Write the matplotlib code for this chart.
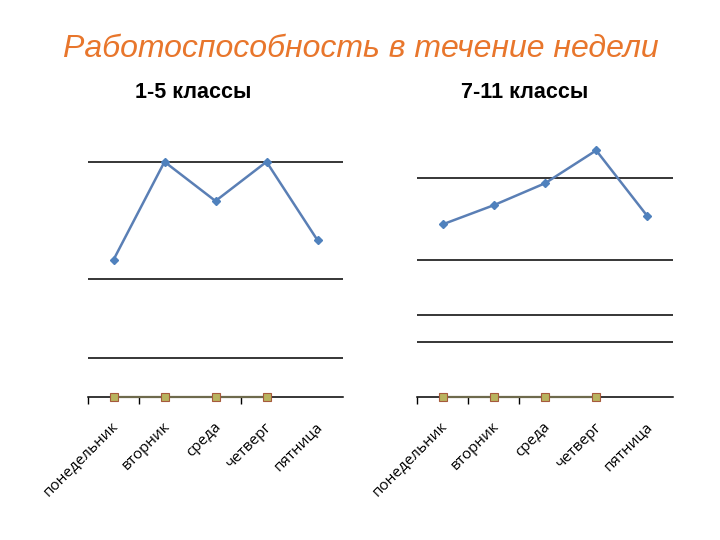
import matplotlib
matplotlib.use("Agg")
import matplotlib.pyplot as plt

days = ["понедельник", "вторник", "среда", "четверг", "пятница"]
title = "Работоспособность в течение недели"

# 1-5 классы
left_title = "1-5 классы"
left_main = [3.5, 6, 5, 6, 4]
left_second = [0, 0, 0, 0]
left_grid = [1, 3, 6]
left_ymax = 6.95

# 7-11 классы
right_title = "7-11 классы"
right_main = [6.3, 7.0, 7.8, 9.0, 6.6]
right_second = [0, 0, 0, 0]
right_grid = [2, 3, 5, 8]
right_ymax = 9.95

W, H = 720, 540
fig = plt.figure(figsize=(7.2, 5.4), dpi=100)
fig.patch.set_facecolor("white")

fig.text(361 / W, 1 - 49 / H, title, ha="center", va="center",
         fontsize=23, style="italic", color="#E8762C",
         family=["Liberation Sans", "DejaVu Sans"])

def make_axes(x0, x1, ybot, ytop):
    return fig.add_axes([x0 / W, 1 - ybot / H, (x1 - x0) / W, (ybot - ytop) / H])

def draw(ax, main, second, grid, ymax, minor_ticks, sub_title, title_x, unit):
    x = list(range(len(days)))
    ax.set_xlim(-0.5, len(days) - 0.5)
    ax.set_ylim(0, ymax)
    for g in grid:
        ax.axhline(g, color="black", lw=1.1, zorder=1)
    ax.plot(x, main, color="#5A7FB5", lw=1.8, marker="D", ms=4.5,
            mfc="#4F81BD", mec="#4F81BD", zorder=3)
    ax.plot(x[:len(second)], second, color="#6e6a4c", lw=1.6, marker="s", ms=6,
            mfc="#B9B35E", mec="#A65A3C", mew=0.8, zorder=3, clip_on=False)
    for s in ["top", "right", "left"]:
        ax.spines[s].set_visible(False)
    ax.spines["bottom"].set_color("black")
    ax.spines["bottom"].set_linewidth(1.1)
    ax.set_yticks([])
    ax.set_xticks(minor_ticks)
    ax.set_xticklabels([])
    ax.tick_params(axis="x", length=5, width=1, color="black", direction="out")
    for i, d in enumerate(days):
        ax.text(i - 0.04, -22 / unit, d, rotation=45, ha="right", va="top",
                rotation_mode="anchor", fontsize=11, family=["Open Sans", "DejaVu Sans"],
                transform=ax.transData, clip_on=False)
    fig.text(title_x / W, 1 - 92 / H, sub_title, ha="center", va="center",
             fontsize=15.5, fontweight="bold", family=["Liberation Sans", "DejaVu Sans"])

axL = make_axes(88, 343, 397, 397 - 39.2 * left_ymax)
draw(axL, left_main, left_second, left_grid, left_ymax, [-0.5, 0.5, 2.5], left_title, 193, 39.2)

axR = make_axes(417, 673, 397, 397 - 27.4 * right_ymax)
draw(axR, right_main, right_second, right_grid, right_ymax, [-0.5, 0.5, 1.5], right_title, 525, 27.4)

fig.savefig("out.png", dpi=100, facecolor="white")
